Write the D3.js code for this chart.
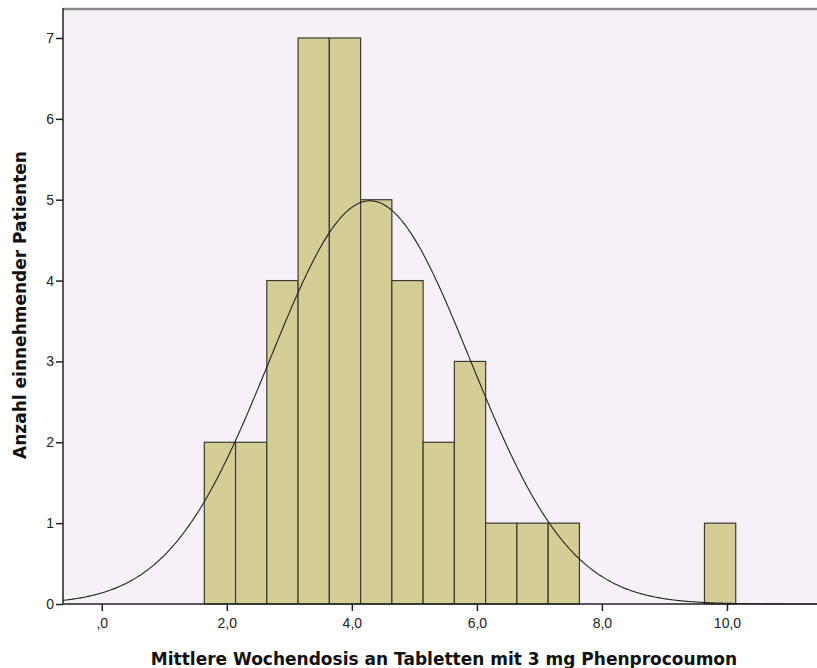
<!DOCTYPE html>
<html>
<head>
<meta charset="utf-8">
<script src="https://cdn.jsdelivr.net/npm/d3@7"></script>
<style>
  body { margin: 0; background: #fff; }
  .tick text { font-family: Arial, "Liberation Sans", sans-serif; }
  .title { font-family: "DejaVu Sans", sans-serif; }
</style>
</head>
<body>
<div id="chart"></div>
<script>
// histogram bins (lower edge) and patient counts
var binStarts = [1.64, 2.14, 2.64, 3.14, 3.64, 4.14, 4.64, 5.14, 5.64, 6.14, 6.64, 7.14, 9.64];
var counts    = [2, 2, 4, 7, 7, 5, 4, 2, 3, 1, 1, 1, 1];
var binWidth = 0.5;
var xTicks = [0, 2, 4, 6, 8, 10];
var yTicks = [0, 1, 2, 3, 4, 5, 6, 7];
var curveMean = 4.29, curveSd = 1.60;

var width = 817, height = 668;
var plotL = 63, plotT = 8, plotR = 817, plotB = 604;

var svg = d3.select("#chart").append("svg")
    .attr("width", width).attr("height", height);

var x = d3.scaleLinear().domain([-0.62, 11.44]).range([plotL, plotR]);
var y = d3.scaleLinear().domain([0, 7]).range([plotB, 38]);

// plot background
svg.append("rect")
    .attr("x", plotL).attr("y", plotT)
    .attr("width", plotR - plotL).attr("height", plotB - plotT)
    .attr("fill", "#f6f1f6");

// top border
svg.append("line")
    .attr("x1", plotL).attr("x2", plotR)
    .attr("y1", plotT + 1).attr("y2", plotT + 1)
    .attr("stroke", "#8a8a8a").attr("stroke-width", 2.5);

// bars
var bins = binStarts.map(function (s, i) { return {x0: s, n: counts[i]}; });
svg.append("g").selectAll("rect")
    .data(bins)
    .enter().append("rect")
    .attr("x", function (d) { return x(d.x0); })
    .attr("y", function (d) { return y(d.n); })
    .attr("width", function (d) { return x(d.x0 + binWidth) - x(d.x0); })
    .attr("height", function (d) { return y(0) - y(d.n); })
    .attr("fill", "#d4cd96")
    .attr("stroke", "#3a3a30")
    .attr("stroke-width", 1.2);

// normal curve
var total = d3.sum(counts);
var scaleK = total * binWidth / (curveSd * Math.sqrt(2 * Math.PI));
var pts = d3.range(-0.62, 11.45, 0.02).map(function (v) {
    var z = (v - curveMean) / curveSd;
    return [v, scaleK * Math.exp(-0.5 * z * z)];
});
svg.append("path")
    .datum(pts)
    .attr("fill", "none")
    .attr("stroke", "#222")
    .attr("stroke-width", 1.1)
    .attr("d", d3.line().x(function (d) { return x(d[0]); }).y(function (d) { return y(d[1]); }));

// y axis
var yAxis = d3.axisLeft(y).tickValues(yTicks).tickSize(7).tickPadding(2)
    .tickFormat(d3.format("d"));
var gy = svg.append("g").attr("transform", "translate(" + plotL + ",0)").call(yAxis);
gy.select(".domain").attr("d", "M0," + plotT + "V" + plotB).attr("stroke", "#222").attr("stroke-width", 1.5);
gy.selectAll(".tick line").attr("stroke", "#222").attr("stroke-width", 1.5);
gy.selectAll("text").attr("font-size", 14).attr("fill", "#222");

// x axis
var xAxis = d3.axisBottom(x).tickValues(xTicks).tickSize(7).tickPadding(7)
    .tickFormat(function (d) { return d === 0 ? ",0" : d.toFixed(1).replace(".", ","); });
var gx = svg.append("g").attr("transform", "translate(0," + plotB + ")").call(xAxis);
gx.select(".domain").attr("d", "M" + plotL + ",0H" + plotR).attr("stroke", "#222").attr("stroke-width", 1.5);
gx.selectAll(".tick line").attr("stroke", "#222").attr("stroke-width", 1.5);
gx.selectAll("text").attr("font-size", 14).attr("fill", "#222");

// titles
svg.append("text")
    .attr("class", "title")
    .attr("x", 444).attr("y", 665)
    .attr("text-anchor", "middle")
    .attr("font-size", 17).attr("font-weight", "bold").attr("fill", "#111")
    .text("Mittlere Wochendosis an Tabletten mit 3 mg Phenprocoumon");

svg.append("text")
    .attr("class", "title")
    .attr("transform", "translate(26,305) rotate(-90)")
    .attr("text-anchor", "middle")
    .attr("font-size", 17).attr("font-weight", "bold").attr("fill", "#111")
    .text("Anzahl einnehmender Patienten");
</script>
</body>
</html>
